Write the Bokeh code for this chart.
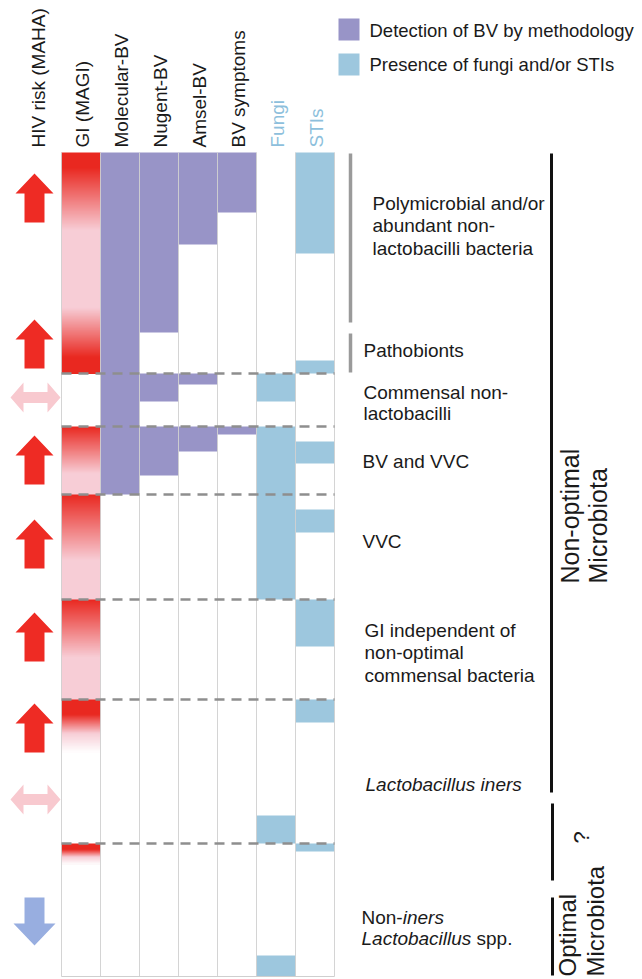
import numpy as np
from bokeh.plotting import figure
from bokeh.models import Range1d
from bokeh.embed import file_html
from bokeh.resources import INLINE
from bokeh.core.properties import value

# ---------------- data ----------------
columns = ["GI (MAGI)", "Molecular-BV", "Nugent-BV", "Amsel-BV", "BV symptoms", "Fungi", "STIs"]
hiv_header = "HIV risk (MAHA)"
# boundaries of microbiota groups along the vertical spectrum (top = 0)
row_bounds = [0, 221, 274, 342, 447, 547, 691, 824]

# intervals (start, end) of positive detection for each column
molecular_bv = [(0, 342)]
nugent_bv = [(0, 180), (221, 249), (274, 323)]
amsel_bv = [(0, 92), (221, 232), (274, 299)]
bv_symptoms = [(0, 60), (274, 282)]
fungi = [(221, 249), (274, 447), (663, 691), (803, 824)]
stis = [(0, 101), (208, 221), (289, 311), (357, 380), (447, 494), (547, 570), (691, 699)]

# genital inflammation (MAGI) level: (start, end, level_start, level_end); 1 = high, 0.5 = moderate, 0 = none
gi_levels = [
    (0, 15, 1.0, 1.0), (15, 78, 1.0, 0.5), (78, 155, 0.5, 0.5), (155, 205, 0.5, 1.0), (205, 221, 1.0, 1.0),
    (274, 321, 1.0, 0.5), (321, 342, 0.5, 0.5),
    (342, 408, 1.0, 0.5), (408, 447, 0.5, 0.5),
    (447, 505, 1.0, 0.5), (505, 547, 0.5, 0.5),
    (547, 562, 1.0, 1.0), (562, 600, 1.0, 0.0),
    (691, 697, 1.0, 1.0), (697, 712, 1.0, 0.0),
]

# HIV risk (MAHA) arrows: positions along the spectrum
hiv_up = [21, 167, 283, 367, 460, 551]
hiv_neutral = [245, 647]
hiv_down = [745]

legend_labels = ["Detection of BV by methodology", "Presence of fungi and/or STIs"]

group_labels = [
    (["Polymicrobial and/or", "abundant non-", "lactobacilli bacteria"], [51, 73, 96], 372),
    (["Pathobionts"], [198], 363),
    (["Commensal non-", "lactobacilli"], [240, 261], 363),
    (["BV and VVC"], [309], 362),
    (["VVC"], [389], 362),
    (["GI independent of", "non-optimal", "commensal bacteria"], [478, 500, 523], 364),
]

# ---------------- style ----------------
PURPLE = "#9894c7"
BLUE = "#9dc7de"
RED = (233, 40, 32)
PINK = (247, 205, 214)
WHITE = (255, 255, 255)
FONT = value("Liberation Sans")
TXT = "#1a1a1a"

GRID_L = 61.0
COLW = 39.0
centers = [GRID_L + COLW * (i + 0.5) for i in range(len(columns))]

p = figure(width=642, height=979, x_range=Range1d(0, 642), y_range=Range1d(827, -152),
           output_backend="svg", toolbar_location=None, min_border=0,
           x_axis_type=None, y_axis_type=None)
p.grid.visible = False
p.outline_line_color = None
p.background_fill_color = "white"
p.border_fill_color = "white"


def level_color(lv):
    if lv >= 0.5:
        t = (lv - 0.5) / 0.5
        c = [PINK[k] + (RED[k] - PINK[k]) * t for k in range(3)]
    else:
        t = lv / 0.5
        c = [WHITE[k] + (PINK[k] - WHITE[k]) * t for k in range(3)]
    return "#%02x%02x%02x" % tuple(int(round(v)) for v in c)


# GI gradient column drawn as thin overlapping slices
tops, bots, cols = [], [], []
starts = {s for (s, e, l0, l1) in gi_levels}
for (s, e, l0, l1) in gi_levels:
    n = max(1, int(round(e - s)))
    continues = e in starts
    for k in range(n):
        a = s + (e - s) * k / n
        b = s + (e - s) * (k + 1) / n
        lv = l0 + (l1 - l0) * (k + 0.5) / n
        last = (k == n - 1)
        tops.append(a)
        bots.append(e if (last and not continues) else b + 1.5)
        cols.append(level_color(lv))
p.quad(left=GRID_L, right=GRID_L + COLW, top=tops, bottom=bots, fill_color=cols, line_color=None)

# detection bars
bar_sets = [(1, molecular_bv, PURPLE), (2, nugent_bv, PURPLE), (3, amsel_bv, PURPLE),
            (4, bv_symptoms, PURPLE), (5, fungi, BLUE), (6, stis, BLUE)]
for ci, ivs, colr in bar_sets:
    p.vbar(x=[centers[ci]] * len(ivs), width=COLW, top=[a for a, b in ivs], bottom=[b for a, b in ivs],
           fill_color=colr, line_color=None)

# light grid
xs = [GRID_L + COLW * i for i in range(len(columns) + 1)]
p.segment(x0=xs, y0=[row_bounds[0]] * len(xs), x1=xs, y1=[row_bounds[-1]] * len(xs),
          line_color="#cfcfcf", line_width=1, line_alpha=0.9)
p.segment(x0=[xs[0]], y0=[row_bounds[-1]], x1=[xs[-1]], y1=[row_bounds[-1]], line_color="#cfcfcf", line_width=1)

# dashed group separators
inner = row_bounds[1:-1]
p.segment(x0=[xs[0]] * len(inner), y0=inner, x1=[xs[-1]] * len(inner), y1=inner,
          line_color="#8e8e8e", line_width=2.5, line_dash="10 7")

# arrows
AX = 34
up_shape = [(0, 0), (19, 20), (10, 20), (10, 49), (-10, 49), (-10, 20), (-19, 20)]
down_shape = [(-10, 0), (10, 0), (10, 26), (21, 26), (0, 48), (-21, 26), (-10, 26)]
dbl_shape = [(-25, 0), (-12, -15), (-12, -5.5), (12, -5.5), (12, -15), (25, 0), (12, 15), (12, 5.5),
             (-12, 5.5), (-12, 15)]


def shapes(pos_list, shape, cx):
    return ([[cx + dx for dx, dy in shape] for _ in pos_list],
            [[y + dy for dx, dy in shape] for y in pos_list])


ux, uy = shapes(hiv_up, up_shape, AX)
p.patches(ux, uy, fill_color="#ee2b24", line_color=None)
nx, ny = shapes(hiv_neutral, dbl_shape, AX + 1)
p.patches(nx, ny, fill_color="#f8c9cf", line_color=None)
dx_, dy_ = shapes(hiv_down, down_shape, AX)
p.patches(dx_, dy_, fill_color="#98aee0", line_color=None)

# column headers (rotated)
hdr_colors = [TXT] * 5 + ["#8dbfdc", "#8dbfdc"]
p.text(x=[38] + [c + 1 for c in centers], y=[-5] * (len(columns) + 1), text=[hiv_header] + columns,
       angle=np.pi / 2, text_font=FONT, text_font_size=value("19px"), text_align="left",
       text_baseline="middle", text_color=[TXT] + hdr_colors)

# legend
p.quad(left=[338, 338], right=[359, 359], top=[-134, -99], bottom=[-112, -77],
       fill_color=[PURPLE, BLUE], line_color=None)
p.text(x=[369, 369], y=[-122, -88], text=legend_labels, text_font=FONT, text_font_size=value("18.5px"),
       text_align="left", text_baseline="middle", text_color=TXT)

# group labels
for lines, ys, x0 in group_labels:
    p.text(x=[x0] * len(lines), y=ys, text=lines, text_font=FONT, text_font_size=value("19px"),
           text_align="left", text_baseline="middle", text_color=TXT)
p.text(x=[365], y=[632], text=["Lactobacillus iners"], text_font=FONT, text_font_size=value("19px"),
       text_font_style="italic", text_align="left", text_baseline="middle", text_color=TXT)
p.text(x=[361], y=[765], text=["Non-"], text_font=FONT, text_font_size=value("19px"),
       text_align="left", text_baseline="middle", text_color=TXT)
p.text(x=[402.2], y=[765], text=["iners"], text_font=FONT, text_font_size=value("19px"),
       text_font_style="italic", text_align="left", text_baseline="middle", text_color=TXT)
p.text(x=[361], y=[786], text=["Lactobacillus"], text_font=FONT, text_font_size=value("19px"),
       text_font_style="italic", text_align="left", text_baseline="middle", text_color=TXT)
p.text(x=[476], y=[786], text=["spp."], text_font=FONT, text_font_size=value("19px"),
       text_align="left", text_baseline="middle", text_color=TXT)

# brackets
p.segment(x0=[350, 350], y0=[1, 181], x1=[350, 350], y1=[170, 220], line_color="#9a9a9a", line_width=3.5)
p.segment(x0=[551, 552, 552], y0=[1, 651, 745], x1=[551, 552, 552], y1=[640, 728, 823],
          line_color="#111111", line_width=3)

# microbiota categories (rotated)
p.text(x=[569, 597], y=[431, 431], text=["Non-optimal", "Microbiota"], angle=np.pi / 2, text_font=FONT,
       text_font_size=value("25px"), text_align="left", text_baseline="middle", text_color=TXT)
p.text(x=[567, 595], y=[824, 824], text=["Optimal", "Microbiota"], angle=np.pi / 2, text_font=FONT,
       text_font_size=value("24px"), text_align="left", text_baseline="middle", text_color=TXT)
p.text(x=[581], y=[685], text=["?"], angle=np.pi / 2, text_font=FONT,
       text_font_size=value("22px"), text_align="center", text_baseline="middle", text_color=TXT)

open("out.html", "w").write(file_html(p, INLINE))
